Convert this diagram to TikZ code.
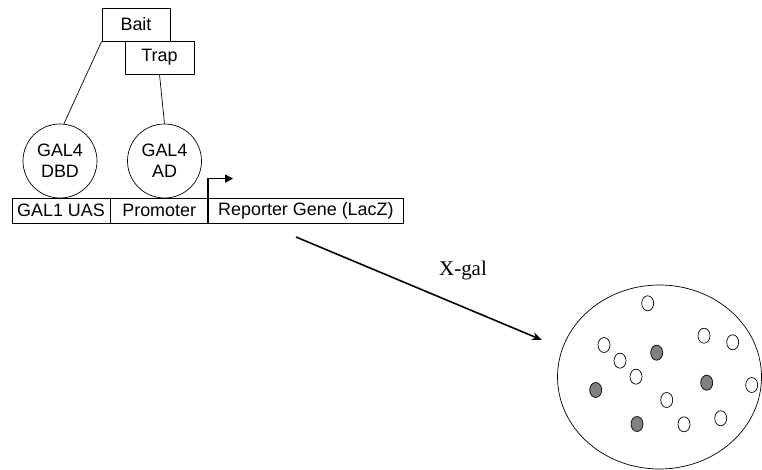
\documentclass[tikz,border=0pt]{standalone}
\usepackage{fontspec}
\setmainfont{Liberation Serif}
\setsansfont{Liberation Sans}
\usepackage{tikz}
\usetikzlibrary{calc,arrows.meta,shapes.geometric}
\definecolor{ink}{HTML}{000000}
\definecolor{blue}{HTML}{808080}
\tikzset{
  box/.style={draw=ink, line width=0.7pt, inner sep=0pt, font=\sffamily\fontsize{18}{21}\selectfont},
  dom/.style={box, circle, minimum size=74bp, align=center},
  seg/.style={box, minimum height=25bp},
  link/.style={draw=ink, line width=0.7pt},
  go/.style={draw=ink, line width=1.6pt, -{Stealth[length=10bp,width=8bp]}},
  plate/.style={draw=ink, line width=0.7pt},
  colony/.style={draw=ink, line width=0.7pt, fill=white},
  blue colony/.style={colony, fill=blue},
}
\begin{document}
\begin{tikzpicture}[x=1bp, y=-1bp]
\useasboundingbox (0,0) rectangle (762,470);
% fusion proteins
\node[box, minimum width=68bp, minimum height=33bp] (bait) at (136,24.5) {Bait};
\node[box, minimum width=69bp, minimum height=33bp] (trap) at (159.5,57.5) {Trap};
\node[dom] (dbd) at (60,161) {GAL4\\DBD};
\node[dom] (ad) at (164.5,161) {GAL4\\AD};
\draw[link] (bait.south west) -- (dbd.84);
\draw[link] (trap.south) -- (ad.north);
% reporter construct
\node[seg, minimum width=98bp] (uas) at (61,210.5) {GAL1 UAS};
\node[seg, minimum width=97bp, anchor=west] (prom) at (uas.east) {Promoter};
\node[seg, minimum width=195bp, anchor=west] (rep) at (prom.east) {Reporter Gene (LacZ)};
\coordinate (tss) at ($(rep.north west)+(0,-19)$);
\draw[link, line width=1.4pt, -{Triangle[length=8bp,width=8bp]}] (rep.north west) -- (tss) -- ++(25,0);
% screening
\coordinate (src) at (296,237);
\coordinate (dst) at (542,340);
\draw[go] (src) -- (dst);
\node[anchor=base, font=\fontsize{21}{24}\selectfont] (xgal) at (463,276) {X-gal};
\node[plate, ellipse, minimum width=204bp, minimum height=184bp] (dish) at (659.5,377) {};
\foreach \px/\py in {647.7/303.3, 604/345, 620/360.7, 636/376.7, 666.7/400, 684/424.3,
                     720.7/418.3, 704/335.7, 732.7/342.3, 751.7/385}
  \draw[colony] (\px,\py) ellipse (6 and 7.5);
\foreach \px/\py in {656.7/352.7, 595.7/390, 637/424, 706.7/382.7}
  \draw[blue colony] (\px,\py) ellipse (6 and 7.5);
\end{tikzpicture}
\end{document}
